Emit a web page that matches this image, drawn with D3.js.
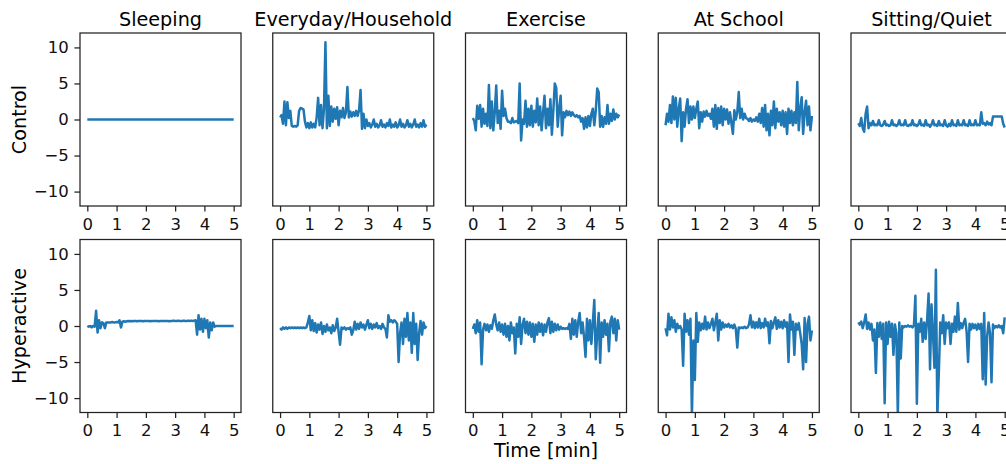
<!DOCTYPE html>
<html>
<head>
<meta charset="utf-8">
<script src="https://cdn.jsdelivr.net/npm/d3@7"></script>
<style>
  body { margin: 0; background: #fff; }
  svg { display: block; font-family: "DejaVu Sans", sans-serif; }
</style>
</head>
<body>
<svg id="chart" width="1006" height="464"></svg>
<script>
// Grid rows / columns and axis ticks
const groups = ['Control', 'Hyperactive'];
const activities = ['Sleeping', 'Everyday/Household', 'Exercise', 'At School', 'Sitting/Quiet'];
const xTicks = [0, 1, 2, 3, 4, 5];
const yTicks = [-10, -5, 0, 5, 10];

// Signals, evenly spaced over 0..5 min
// (101 samples = one every 0.05 min; the flat sleeping trace has 11)
const controlSleeping = [0, 0, 0, 0, 0, 0, 0, 0, 0, 0, 0];

const controlHousehold = [
  0.3, 0.6, -0.6, 2.5, -0.8, 2.4, 0.2, 1.2, -0.9, -1.0,
  -0.9, -1.0, -0.8, 1.2, 1.6, 1.5, 1.4, -0.3, -1.1, -0.5,
  -1.2, -0.4, -1.1, -0.6, -1.1, 0.3, 3.0, -0.8, 2.0, -1.2,
  1.5, 10.7, -1.2, 3.3, -0.9, 1.8, -0.3, 1.5, 0.1, 1.7,
  -0.8, 1.2, 0.3, 1.6, 0.2, 1.0, 4.5, 0.3, 1.1, 0.4,
  1.0, 0.5, 1.2, 0.5, 1.3, 4.1, -1.3, 0.8, -1.2, 0.0,
  -0.9, -0.5, -1.1, -0.7, 0.0, -1.0, -0.6, -1.1, -0.8, -0.1,
  -1.0, -0.7, -1.1, -0.5, -0.9, 0.0, -1.1, -0.7, -1.0, -0.4,
  -1.1, -0.8, 0.0, -1.0, -0.6, -1.1, -0.8, -0.1, -1.0, -0.6,
  -1.1, -0.7, 0.0, -1.0, -0.7, -1.1, -0.5, -1.0, -0.1, -1.0,
  -0.7
];

const controlExercise = [
  0.2, -0.2, -1.5, 1.9, 0.1, 2.0, -1.0, 1.5, -0.6, 0.8,
  -0.9, 4.8, -1.2, 2.5, -1.5, 1.0, 4.7, -0.5, 1.2, -1.3,
  4.0, 0.5, 1.5, 0.2, -0.3, -0.3, -0.5, 0.2, -0.4, -0.3,
  -0.2, -0.5, 5.0, -2.9, 0.0, -0.6, 2.6, -1.0, 1.5, -0.8,
  1.9, -1.0, 1.2, -0.4, 2.9, -0.8, 1.8, -1.5, 1.0, 3.3,
  -1.2, 1.5, -0.8, 2.8, -2.1, 1.2, 5.0, 4.4, -1.0, 1.5,
  3.3, -2.2, 1.0, 0.3, 1.2, 0.6, 1.1, 0.5, 1.0, 0.6,
  0.4, 0.6, 0.3, 0.5, -0.3, 0.2, -1.3, 0.3, -1.1, 0.5,
  -0.9, 0.8, 1.5, -0.8, 1.2, 4.3, 3.8, -1.0, 0.5, -1.0,
  0.3, -0.6, 2.0, -0.6, 0.8, -0.2, 1.4, 0.0, 0.8, 0.3,
  0.7
];

const controlSchool = [
  -0.8, 0.8, -0.3, 2.0, -0.5, 3.2, 0.0, 3.0, -1.0, 1.5,
  2.9, -3.0, 1.0, -1.0, 1.5, 2.8, -0.5, 1.8, 0.0, 1.8,
  0.2, 1.5, 2.5, -1.2, 1.0, -0.3, 1.1, 0.4, 1.2, 0.5,
  0.8, 0.1, 1.5, -1.0, 2.0, -1.3, 1.6, -0.5, 1.8, -0.8,
  1.5, 0.0, 1.4, -0.6, 1.0, -0.5, -2.0, 1.3, 0.0, 1.0,
  3.8, 0.2, 1.5, 0.0, 0.8, 0.2, 0.1, -0.2, 0.2, -0.3,
  0.0, -0.2, 0.3, -0.3, 0.8, -0.5, 1.6, -1.0, 2.0, -1.5,
  0.8, -2.2, 1.2, -0.8, 2.5, -1.2, 1.5, -0.3, 1.0, -0.8,
  1.2, -1.0, 1.0, -2.0, 1.5, -0.5, 1.2, -0.8, 1.0, -0.5,
  5.2, -1.5, 1.5, 3.1, -2.0, 1.0, 2.6, -0.8, 1.8, -1.5,
  0.5
];

const controlSitting = [
  -0.5, -0.9, 0.2, -1.2, -1.7, 0.8, 1.8, -1.2, -0.5, -0.8,
  -0.2, -0.8, -0.7, -0.8, -0.1, -0.8, -0.9, -0.7, -0.2, -0.8,
  -0.7, -0.9, -0.8, -0.1, -0.8, -0.7, -0.9, -0.7, -0.1, -0.8,
  -0.7, -0.8, -0.1, -0.8, -0.9, -0.7, -0.8, -0.1, -0.8, -0.7,
  -0.9, -0.7, -0.1, -0.8, -0.7, -0.9, -0.1, -0.8, -0.7, -1.0,
  -0.7, -0.1, -0.8, -0.7, -0.9, -0.2, -0.8, -0.7, -0.9, -0.1,
  -0.8, -1.0, -0.6, -0.9, -0.1, -0.8, -0.7, -0.9, -0.1, -0.8,
  -0.7, -0.8, -0.1, -0.8, -0.7, -0.9, -0.1, -0.8, -0.7, -0.8,
  -0.1, -0.8, -0.7, -0.8, 1.0, -0.6, -0.5, -0.8, -0.3, -0.7,
  -0.5, -0.8, 0.4, 0.4, 0.4, 0.4, 0.4, 0.4, 0.4, -0.6,
  -1.1
];

const hyperSleeping = [
  0.0, -0.1, 0.0, -0.2, 0.0, -0.1, 2.1, -0.9, 0.8, -0.3,
  0.5, 0.4, -0.3, 0.5, 0.5, 0.5, 0.5, 0.55, 0.5, 0.5,
  0.55, 0.5, 0.8, -0.2, 0.6, 0.65, 0.6, 0.65, 0.7, 0.65,
  0.7, 0.65, 0.7, 0.7, 0.65, 0.7, 0.7, 0.7, 0.65, 0.7,
  0.7, 0.7, 0.7, 0.65, 0.7, 0.7, 0.7, 0.7, 0.7, 0.65,
  0.7, 0.7, 0.7, 0.7, 0.7, 0.7, 0.65, 0.7, 0.7, 0.75,
  0.7, 0.7, 0.75, 0.7, 0.7, 0.7, 0.75, 0.7, 0.7, 0.75,
  0.7, 0.75, 0.7, 0.75, 0.8, -1.2, 1.5, -0.5, 1.0, -0.8,
  1.0, -0.3, 0.8, -1.6, 0.5, -0.6, 0.5, -0.1, 0.0, 0.0,
  0.0, 0.0, 0.0, 0.0, 0.0, 0.0, 0.0, 0.0, 0.0, 0.0,
  0.0
];

const hyperHousehold = [
  -0.3, -0.5, -0.2, -0.4, -0.2, -0.4, -0.2, -0.3, -0.2, -0.3,
  -0.2, -0.3, -0.2, -0.3, -0.2, -0.3, -0.2, -0.3, -0.2, 0.5,
  1.4, -0.6, 0.8, -0.7, 0.4, -0.9, 0.2, -0.5, 0.5, -1.1,
  0.0, -0.8, 0.2, -0.6, -0.2, -1.0, 0.1, -0.7, -0.2, 1.0,
  -0.8, -2.6, -0.2, -0.4, -0.2, -0.5, -0.3, -0.4, -0.2, -1.2,
  -0.6, 0.6, -0.5, 0.3, -0.4, 0.5, -0.2, 0.2, -0.5, 0.2,
  0.8, -0.3, 0.3, -0.4, 0.2, -0.2, 0.4, -0.3, 0.0, -0.4,
  0.3, -0.2, -0.4, -1.6, 1.5, 0.6, 0.8, 0.5, 0.8, 0.6,
  0.3, -5.0, -1.0, 0.5, -2.5, 1.0, -1.5, 1.8, -2.0, 0.5,
  -3.7, 1.8, -2.5, 0.3, -4.7, -1.0, 0.7, -1.2, 0.5, -0.3,
  0.0
];

const hyperExercise = [
  -0.4, 0.2, -1.0, 0.8, -0.8, 0.5, -5.3, -0.5, 0.3, -0.6,
  0.2, -0.8, 0.1, -0.4, 0.8, 1.6, 0.2, -0.6, 0.5, -0.8,
  0.2, -1.2, 0.3, -1.5, 0.0, -2.0, 0.5, -1.0, -0.2, -3.8,
  0.3, -1.5, 1.2, -2.5, 0.2, 1.0, -1.0, 0.6, -1.2, 0.5,
  -1.5, 0.3, -2.2, 0.2, -1.2, 0.5, -0.8, 0.3, -1.3, 0.2,
  -0.8, 0.5, 1.1, -1.0, 0.6, -0.8, 0.3, -0.6, 0.2, -0.5,
  -0.1, -0.4, -0.3, -0.4, -0.3, -0.4, 0.3, -1.8, 1.0, -1.2,
  0.8, -1.5, 0.6, 1.8, -1.0, 0.5, -1.5, -4.3, 1.0, -2.0,
  0.8, -2.5, 0.5, 3.6, -4.6, -1.0, 1.8, -5.1, 0.5, -1.5,
  0.8, -1.2, 0.3, -3.5, 0.6, 1.3, -1.0, 1.0, -2.0, 0.8,
  -0.5
];

const hyperSchool = [
  -0.3, -1.3, 1.7, -0.5, 1.2, -0.2, 0.8, -0.8, 0.3, -0.3,
  0.0, -0.5, -5.5, 1.7, -0.8, 0.8, -1.2, 1.0, -12.5, -2.0,
  -7.5, 1.8, -2.2, 0.5, -0.6, 0.3, -0.4, 1.3, -0.5, 0.5,
  -0.3, 0.3, 1.0, -0.6, 0.5, 1.7, -2.0, 0.8, -0.5, 0.5,
  -0.2, 0.2, -0.1, 0.3, -0.2, 0.1, -0.3, 0.2, -0.4, -3.0,
  -0.2, -0.3, -0.2, -0.3, -0.1, -0.3, -0.2, 0.2, 1.5, -0.2,
  0.6, -0.3, 0.5, -0.2, 1.0, -0.3, 0.4, -0.2, 1.0, 0.0,
  0.5, -2.4, 0.7, -0.3, 0.5, 1.2, -0.4, 0.8, -0.2, 0.6,
  -0.3, 0.8, -0.1, 0.5, -5.0, 1.6, -0.5, 0.6, -4.0, 0.3,
  -0.5, 0.4, -1.0, -2.5, -6.0, 1.1, -5.0, 0.3, 1.3, -2.0,
  -0.6
];

const hyperSitting = [
  0.5, 0.2, 0.6, -0.3, 0.5, 1.6, -0.4, 0.5, -0.5, 0.3,
  -2.0, -0.5, -6.5, 0.4, -1.5, 0.5, -1.8, 0.3, -10.7, 0.5,
  -2.5, 0.6, -1.5, 0.3, -4.0, 0.2, -1.0, -12.5, 0.5, -4.5,
  0.0, -0.2, 0.0, -0.1, 0.1, -0.1, 0.0, -0.2, 0.1, 4.2,
  -10.8, 0.3, -0.8, 1.0, -2.2, 0.5, -1.8, 0.8, 4.5, -6.0,
  3.0, -1.0, -5.8, 7.8, -12.5, -6.5, 0.5, -1.0, 1.5, -2.5,
  0.5, -0.3, 0.5, -2.5, 0.3, -0.8, 1.3, -0.8, 3.2, -0.5,
  0.4, -0.3, 0.5, 1.0, -0.8, -5.0, 0.3, -0.5, 0.3, -0.3,
  0.2, -0.5, 0.3, -0.4, 0.3, -7.4, 1.8, -8.1, -1.5, 0.5,
  -1.0, -7.8, 0.2, -0.3, 0.0, -0.2, 0.1, -0.2, 0.0, -1.0,
  1.2
];

const signals = [
  [controlSleeping, controlHousehold, controlExercise, controlSchool, controlSitting],
  [hyperSleeping, hyperHousehold, hyperExercise, hyperSchool, hyperSitting]
];

/**
 * PanelGrid - small multiples of signal traces, one panel per group/activity
 */
class PanelGrid {
    constructor(svg) {
        this.svg = svg;
        this.left = 80;
        this.colStep = 192.75;
        this.rowTops = [33, 239.5];
        this.width = 161;
        this.height = 173;
        this.color = '#1f77b4';

        this.x = d3.scaleLinear().domain([-0.25, 5.25]).range([0, this.width]);
        this.y = d3.scaleLinear().domain([-12, 12]).range([this.height, 0]);
    }

    /**
     * Draw every panel plus the shared labels
     */
    render() {
        const defs = this.svg.append('defs');
        defs.append('clipPath')
            .attr('id', 'plot-area')
            .append('rect')
            .attr('width', this.width)
            .attr('height', this.height);

        groups.forEach((group, row) => {
            activities.forEach((activity, col) => {
                this.drawPanel(signals[row][col], row, col);
            });

            // Row label
            this.svg.append('text')
                .attr('transform', `translate(26,${this.rowTops[row] + this.height / 2}) rotate(-90)`)
                .attr('text-anchor', 'middle')
                .attr('font-size', 19.2)
                .text(group);
        });

        // Column titles
        activities.forEach((activity, col) => {
            this.svg.append('text')
                .attr('x', this.left + col * this.colStep + this.width / 2)
                .attr('y', this.rowTops[0] - 6.8)
                .attr('text-anchor', 'middle')
                .attr('font-size', 19.2)
                .text(activity);
        });

        // Shared x label under the middle column
        this.svg.append('text')
            .attr('x', this.left + 2 * this.colStep + this.width / 2)
            .attr('y', 457)
            .attr('text-anchor', 'middle')
            .attr('font-size', 19.2)
            .text('Time [min]');
    }

    /**
     * One panel: trace, ticks, frame
     */
    drawPanel(values, row, col) {
        const g = this.svg.append('g')
            .attr('transform', `translate(${this.left + col * this.colStep},${this.rowTops[row]})`);

        const step = 5 / (values.length - 1);
        const line = d3.line()
            .x((d, i) => this.x(i * step))
            .y(d => this.y(d));

        g.append('path')
            .datum(values)
            .attr('clip-path', 'url(#plot-area)')
            .attr('fill', 'none')
            .attr('stroke', this.color)
            .attr('stroke-width', 2.5)
            .attr('stroke-linejoin', 'round')
            .attr('d', line);

        const xAxis = g.append('g')
            .attr('transform', `translate(0,${this.height})`)
            .call(d3.axisBottom(this.x)
                .tickValues(xTicks)
                .tickFormat(d3.format('d'))
                .tickSize(5.6)
                .tickPadding(6.6));
        this.styleAxis(xAxis);

        if (col === 0) {
            const yAxis = g.append('g')
                .call(d3.axisLeft(this.y).tickValues(yTicks).tickSize(5.6).tickPadding(5.6));
            this.styleAxis(yAxis);
        }

        // Frame drawn on top of the trace
        g.append('rect')
            .attr('width', this.width)
            .attr('height', this.height)
            .attr('fill', 'none')
            .attr('stroke', '#222')
            .attr('stroke-width', 1.25);
    }

    /**
     * Match matplotlib tick look
     */
    styleAxis(axis) {
        axis.attr('font-family', null).attr('font-size', 16.5);
        axis.select('.domain').remove();
        axis.selectAll('.tick line').attr('stroke', '#222').attr('stroke-width', 1.25);
        axis.selectAll('.tick text').attr('fill', '#111');
    }
}

const grid = new PanelGrid(d3.select('#chart'));
grid.render();
</script>
</body>
</html>
